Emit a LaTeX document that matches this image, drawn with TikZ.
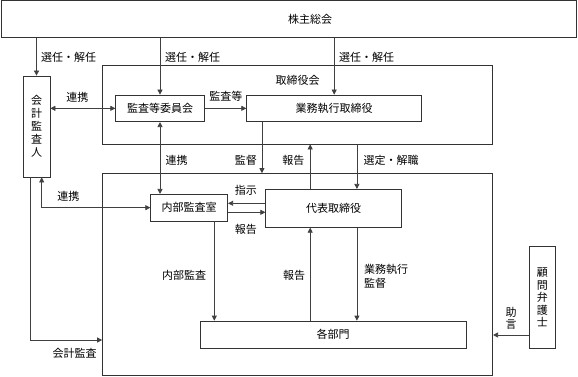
\documentclass[tikz,border=0pt]{standalone}
\usepackage{fontspec}
\setmainfont{Noto Sans CJK JP}
\usetikzlibrary{arrows.meta}
\begin{document}
\begin{tikzpicture}[x=1pt,y=-1pt,
  box/.style={draw=black!80, line width=0.7pt, rectangle, inner sep=0pt, font=\fontsize{11}{13}\selectfont, align=center},
  conn/.style={draw=black!75, line width=0.7pt},
  arr/.style={conn, -{Triangle[length=5pt,width=5pt]}},
  arr2/.style={conn, {Triangle[length=5pt,width=5pt]}-{Triangle[length=5pt,width=5pt]}},
  lbl/.style={font=\fontsize{11}{13}\selectfont, inner sep=0pt, align=left}]
\useasboundingbox (0,0) rectangle (578,377);

% boxes
\node[box, minimum width=575pt, minimum height=37pt,
      label={[lbl, xshift=21.5pt]center:株主総会}] (kabu) at (288.5,19) {};
\node[box, minimum width=27pt, minimum height=101pt] (kaikei) at (36.5,126.5) {会\\計\\監\\査\\人};
\node[box, minimum width=390.7pt, minimum height=78.3pt] (tori) at (297.35,104.85) {};
\node[lbl] (toriL) at (297.7,80.7) {取締役会};
\node[box, minimum width=88.6pt, minimum height=26.7pt] (kansa) at (160,108.35) {監査等委員会};
\node[box, minimum width=175pt, minimum height=26.7pt] (gyomu) at (334.2,108.35) {業務執行取締役};
\node[box, minimum width=390.2pt, minimum height=202.2pt] (exec) at (297.6,274.6) {};
\node[box, minimum width=77pt, minimum height=26.7pt] (naibu) at (189.2,207.65) {内部監査室};
\node[box, minimum width=136pt, minimum height=38pt] (daihyo) at (333.7,208.3) {代表取締役};
\node[box, minimum width=266pt, minimum height=27.3pt] (kakubu) at (333,334.65) {各部門};
\node[box, minimum width=26pt, minimum height=101.3pt, font=\fontsize{11}{12.5}\selectfont] (komon) at (542.3,297.35) {顧\\問\\弁\\護\\士};

% connectors from 株主総会
\draw[arr] (kabu.south -| kaikei.north) -- (kaikei.north);
\draw[arr] (kansa.north |- kabu.south) -- (kansa.north);
\draw[arr] (gyomu.north |- kabu.south) -- (gyomu.north);

% 連携 / 監査等
\draw[arr2] (kaikei.east |- kansa.west) -- (kansa.west);
\draw[arr] (kansa.east) -- (gyomu.west);
\draw[arr2] (kansa.south) -- (kansa.south |- naibu.north);

% 監督
\coordinate (g1) at ([xshift=15.6pt]gyomu.south west);
\draw[arr] (g1) -- (g1 |- exec.north);
% 報告 (up) and 選定・解職
\coordinate (d0) at ([xshift=-23.5pt]daihyo.north);
\draw[arr] (d0) -- (d0 |- tori.south);
\coordinate (d3) at ([xshift=23.2pt]daihyo.north);
\draw[arr] (d3 |- tori.south) -- (d3);

% 指示 / 報告
\coordinate (s1) at ([yshift=5pt]daihyo.west);
\draw[arr] (s1) -- (s1 -| naibu.east);
\coordinate (s2) at ([yshift=-4.65pt]naibu.east);
\draw[arr] (s2) -- (s2 -| daihyo.west);

% 会計監査人 to 内部監査室 and 会計監査
\draw[arr2] ([xshift=5.2pt]kaikei.south) |- (naibu.west);
\coordinate (ka) at (0,340);
\draw[arr] ([xshift=-5.8pt]kaikei.south) |- (exec.west |- ka);

% 内部監査
\coordinate (n1) at ([xshift=25.1pt]naibu.south);
\draw[arr] (n1) -- (n1 |- kakubu.north);
% 報告 (from 各部門) and 業務執行監督
\coordinate (d1) at ([xshift=-23.5pt]daihyo.south);
\draw[arr] (d1 |- kakubu.north) -- (d1);
\coordinate (d2) at ([xshift=23.2pt]daihyo.south);
\draw[arr] (d2) -- (d2 |- kakubu.north);

% 助言
\coordinate (k1) at ([yshift=-37.65pt]komon.west);
\draw[arr] (k1) -- (k1 -| exec.east);

% labels
\node[lbl, anchor=west] (l1) at (41,57.3) {選任・解任};
\node[lbl, anchor=west] (l2) at (165,57.3) {選任・解任};
\node[lbl, anchor=west] (l3) at (339,57.3) {選任・解任};
\node[lbl] (l4) at (77.3,97.7) {連携};
\node[lbl] (l5) at (225.8,96.7) {監査等};
\node[lbl] (l6) at (176.7,160) {連携};
\node[lbl] (l7) at (245.8,160) {監督};
\node[lbl] (l8) at (293.3,160) {報告};
\node[lbl, anchor=west] (l9) at (363.3,160) {選定・解職};
\node[lbl] (l10) at (68.3,196.7) {連携};
\node[lbl] (l11) at (245.8,190.7) {指示};
\node[lbl] (l12) at (245.8,229.3) {報告};
\node[lbl] (l13) at (184.2,275) {内部監査};
\node[lbl] (l14) at (294.2,275) {報告};
\node[lbl, anchor=west, font=\fontsize{11}{14}\selectfont] (l15) at (364,276.3) {業務執行\\監督};
\node[lbl] (l16) at (74.5,353.3) {会計監査};
\node[lbl, align=center, font=\fontsize{11}{12}\selectfont] (l17) at (511,318) {助\\言};
\end{tikzpicture}
\end{document}
